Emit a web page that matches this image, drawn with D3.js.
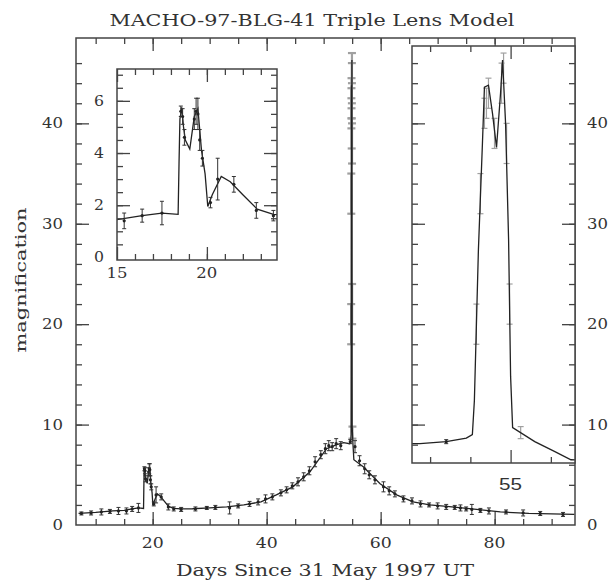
<!DOCTYPE html>
<html>
<head>
<meta charset="utf-8">
<script src="https://cdn.jsdelivr.net/npm/d3@7"></script>
<style>
  body { margin: 0; background: #fff; }
  svg text { font-family: "DejaVu Serif", "Liberation Serif", serif; fill: #333; }
  .tick line { stroke: #444; stroke-width: 1.3; }
</style>
</head>
<body>
<div id="chart"></div>
<script>
// model light curve (days since 31 May 1997, magnification)
const modelDay = [7.0, 10, 13, 15, 16.4, 17.5, 18.4, 18.45, 18.5, 18.6, 18.7, 18.8, 19.05, 19.3, 19.5, 19.7, 19.9, 20.05, 20.3, 20.8,
  21.3, 22.0, 22.8, 23.7, 25, 27, 30, 33, 36, 39, 41.7, 44.6, 47.6, 50.5, 52.3, 53.5, 54.55, 54.68, 54.78, 54.81,
  54.82, 54.84, 54.86, 54.87, 54.89, 54.91, 54.93, 54.95, 54.96, 54.975, 54.99, 55.0, 55.01, 55.12, 55.22, 55.30,
  56.95, 59.9, 62.8, 65.7, 68.6, 71.6, 76, 81, 86, 94];
const modelMag = [1.15, 1.25, 1.4, 1.45, 1.6, 1.7, 1.65, 3.6, 5.3, 5.75, 5.0, 4.5, 4.15, 5.4, 5.7, 4.1, 3.2, 1.95, 2.4, 3.1,
  2.9, 2.4, 1.85, 1.65, 1.6, 1.62, 1.7, 1.8, 2.0, 2.3, 3.0, 3.8, 5.3, 7.6, 8.0, 8.2, 8.1, 8.3, 8.65, 9.0,
  12.4, 27.4, 38, 43.6, 43.8, 41, 37.6, 43, 46.3, 40, 28.4, 14.8, 9.7, 8.3, 7.3, 6.5,
  5.8, 4.1, 3.0, 2.3, 2.0, 1.85, 1.6, 1.3, 1.15, 1.05];

// photometry points
const obsDay = [7.5, 9.2, 11.0, 12.5, 14.0, 15.4, 16.4, 17.5, 18.55, 18.65, 18.75, 19.3, 19.4, 19.5, 19.6, 19.75, 20.2, 20.6,
  21.5, 22.75, 23.7, 25.0, 27.5, 29.5, 31, 33.5, 35, 37, 38.5, 39.8, 41, 42.5, 43.5, 44.5, 45.5, 46.5, 47.5, 48.5,
  49.5, 50.3, 50.9, 51.5, 52.2, 53.0, 54.68, 55.5, 56.3, 57.2, 58, 59, 60.5, 61.5, 62.5, 64, 65.5, 67, 68.5, 70,
  71.5, 73, 74, 75, 76, 77.5, 79, 82, 85, 88, 92];
const obsMag = [1.15, 1.2, 1.3, 1.35, 1.4, 1.4, 1.6, 1.7, 5.6, 5.4, 4.6, 5.3, 5.6, 5.5, 4.5, 3.8, 2.1, 3.0,
  2.8, 1.8, 1.6, 1.55, 1.6, 1.7, 1.75, 1.7, 1.9, 2.1, 2.3, 2.6, 2.8, 3.2, 3.5, 3.9, 4.3, 4.8, 5.4, 6.3,
  7.0, 7.6, 7.9, 7.8, 8.1, 7.9, 8.3, 7.8, 6.4, 5.6, 5.0, 4.5, 3.8, 3.4, 3.1, 2.6, 2.4, 2.1, 2.0, 1.9,
  1.8, 1.75, 1.7, 1.6, 1.55, 1.45, 1.4, 1.3, 1.2, 1.15, 1.05];
const obsErr = [0.15, 0.2, 0.3, 0.2, 0.35, 0.3, 0.25, 0.45, 0.2, 0.3, 0.3, 0.4, 0.5, 0.6, 0.4, 0.3, 0.2, 0.8,
  0.3, 0.3, 0.2, 0.2, 0.2, 0.15, 0.2, 0.6, 0.2, 0.25, 0.3, 0.4, 0.3, 0.3, 0.3, 0.3, 0.4, 0.4, 0.4, 0.5,
  0.4, 0.5, 0.5, 0.4, 0.5, 0.4, 0.2, 0.6, 0.5, 0.5, 0.4, 0.4, 0.5, 0.4, 0.3, 0.3, 0.3, 0.3, 0.2, 0.3,
  0.25, 0.2, 0.3, 0.2, 0.5, 0.2, 0.3, 0.2, 0.3, 0.2, 0.2];

// caustic crossing points (plotted grey)
const peakDay = [54.83, 54.85, 54.87, 54.88, 54.89, 54.92, 54.955, 54.965, 54.98, 54.995, 55.05];
const peakMag = [20, 33, 41, 42, 43, 39, 44, 45.5, 38, 22, 9.2];
const peakErr = [2, 2, 1.5, 1.5, 1.5, 1.5, 2, 1.5, 2, 2, 0.6];

// tick labels
const mainXLabels = [20, 40, 60, 80];
const mainYLabels = [0, 10, 20, 30, 40];
const inset1XLabels = [15, 20];
const inset1YLabels = [0, 2, 4, 6];
const inset2XLabels = [55];

const model = modelDay.map((d, i) => ({day: d, mag: modelMag[i]}));
const obs = obsDay.map((d, i) => ({day: d, mag: obsMag[i], err: obsErr[i]}));
const peak = peakDay.map((d, i) => ({day: d, mag: peakMag[i], err: peakErr[i]}));

const W = 613, H = 582;
const svg = d3.select("#chart").append("svg")
    .attr("width", W)
    .attr("height", H);

// main panel scales
const x = d3.scaleLinear().domain([6.55, 94.1]).range([76, 575]);
const y = d3.scaleLinear().domain([0, 48.5]).range([525, 38]);

// wide, blurred plotter lettering: stretch glyphs to the measured width
function label(sel, perChar) {
    sel.attr("textLength", d => String(d).length * perChar)
        .attr("lengthAdjust", "spacingAndGlyphs");
}

function drawPanel(p) {
    let g = svg.append("g");
    let [x0, x1] = p.x.range();
    let [y1, y0] = p.y.range();

    g.append("clipPath").attr("id", p.id)
        .append("rect")
        .attr("x", x0).attr("y", y0)
        .attr("width", x1 - x0).attr("height", y1 - y0);

    if (p.background) {
        g.append("rect")
            .attr("x", x0).attr("y", y0)
            .attr("width", x1 - x0).attr("height", y1 - y0)
            .attr("fill", "#fff");
    }

    let plot = g.append("g").attr("clip-path", "url(#" + p.id + ")");

    // grey points around the caustic crossing
    let pk = plot.append("g").attr("stroke", "#a0a0a0").attr("stroke-width", p.peakWidth);
    peak.forEach(d => {
        pk.append("line")
            .attr("x1", p.x(d.day)).attr("x2", p.x(d.day))
            .attr("y1", p.y(d.mag - d.err)).attr("y2", p.y(d.mag + d.err));
        [d.mag - d.err, d.mag + d.err].forEach(v => {
            pk.append("line")
                .attr("x1", p.x(d.day) - p.cap).attr("x2", p.x(d.day) + p.cap)
                .attr("y1", p.y(v)).attr("y2", p.y(v));
        });
    });

    // model curve
    let line = d3.line()
        .x(d => p.x(d.day))
        .y(d => p.y(d.mag));
    plot.append("path")
        .datum(model)
        .attr("fill", "none")
        .attr("stroke", "#222")
        .attr("stroke-width", 1.3)
        .attr("d", line);

    // photometry with error bars
    let pts = plot.append("g").attr("stroke", "#333").attr("stroke-width", 1);
    obs.forEach(d => {
        pts.append("line")
            .attr("x1", p.x(d.day)).attr("x2", p.x(d.day))
            .attr("y1", p.y(d.mag - d.err)).attr("y2", p.y(d.mag + d.err));
        [d.mag - d.err, d.mag + d.err].forEach(v => {
            pts.append("line")
                .attr("x1", p.x(d.day) - 2).attr("x2", p.x(d.day) + 2)
                .attr("y1", p.y(v)).attr("y2", p.y(v));
        });
        pts.append("circle")
            .attr("cx", p.x(d.day)).attr("cy", p.y(d.mag))
            .attr("r", 1.6).attr("fill", "#222").attr("stroke", "none");
    });

    // inward ticks on all four sides
    let sides = [
        [d3.axisBottom, p.x, p.xMinor, p.xMajor, "translate(0," + y1 + ")"],
        [d3.axisTop, p.x, p.xMinor, p.xMajor, "translate(0," + y0 + ")"],
        [d3.axisLeft, p.y, p.yMinor, p.yMajor, "translate(" + x0 + ",0)"],
        [d3.axisRight, p.y, p.yMinor, p.yMajor, "translate(" + x1 + ",0)"]
    ];
    sides.forEach(([axis, sc, minor, major, tr]) => {
        [[minor, 6], [major, 13]].forEach(([vals, len]) => {
            let a = g.append("g")
                .attr("transform", tr)
                .call(axis(sc).tickValues(vals).tickSize(-len).tickFormat(""));
            a.select(".domain").remove();
        });
    });

    g.append("rect")
        .attr("x", x0).attr("y", y0)
        .attr("width", x1 - x0).attr("height", y1 - y0)
        .attr("fill", "none")
        .attr("stroke", "#444")
        .attr("stroke-width", 1.5);
    return g;
}

// main panel
let mainG = drawPanel({
    id: "clipMain", x: x, y: y, cap: 4, peakWidth: 2.2,
    xMinor: d3.range(10, 94, 5), xMajor: [20, 40, 60, 80],
    yMinor: d3.range(2, 48, 2), yMajor: [10, 20, 30, 40]
});

mainG.selectAll(".xl").data(mainXLabels).enter().append("text")
    .attr("x", d => x(d)).attr("y", 548)
    .attr("text-anchor", "middle").attr("font-size", 14)
    .text(d => d)
    .call(label, 11);
mainG.selectAll(".yl").data(mainYLabels).enter().append("text")
    .attr("x", 63).attr("y", d => y(d) + 5)
    .attr("text-anchor", "end").attr("font-size", 14)
    .text(d => d)
    .call(label, 10.5);
mainG.selectAll(".yr").data(mainYLabels).enter().append("text")
    .attr("x", 587).attr("y", d => y(d) + 5)
    .attr("text-anchor", "start").attr("font-size", 14)
    .text(d => d)
    .call(label, 10.5);

// inset 1: the first (planetary) bump
const x1s = d3.scaleLinear().domain([15, 23.9]).range([117, 277]);
const y1s = d3.scaleLinear().domain([-0.1, 7.22]).range([260, 69]);
let in1 = drawPanel({
    id: "clipIn1", x: x1s, y: y1s, cap: 2, peakWidth: 1.2, background: true,
    xMinor: d3.range(16, 24, 1), xMajor: [15, 20],
    yMinor: d3.range(0.5, 7.2, 0.5), yMajor: [2, 4, 6]
});
in1.selectAll(".xl").data(inset1XLabels).enter().append("text")
    .attr("x", d => x1s(d)).attr("y", 278)
    .attr("text-anchor", "middle").attr("font-size", 14)
    .text(d => d)
    .call(label, 10.5);
in1.selectAll(".yl").data(inset1YLabels).enter().append("text")
    .attr("x", 104).attr("y", d => y1s(d) + 5)
    .attr("text-anchor", "end").attr("font-size", 14)
    .text(d => d)
    .call(label, 10);

// inset 2: the caustic crossing, same magnification scale as the main panel
const x2s = d3.scaleLinear().domain([54.51, 55.32]).range([412, 575]);
const y2s = d3.scaleLinear().domain([y.invert(463), y.invert(46)]).range([463, 46]);
let in2 = drawPanel({
    id: "clipIn2", x: x2s, y: y2s, cap: 3, peakWidth: 1.2, background: true,
    xMinor: [54.6, 54.8, 55.2], xMajor: [55],
    yMinor: d3.range(8, 48, 2), yMajor: [10, 20, 30, 40]
});
in2.selectAll(".xl").data(inset2XLabels).enter().append("text")
    .attr("x", d => x2s(d)).attr("y", 490)
    .attr("text-anchor", "middle").attr("font-size", 17)
    .style("font-family", "'Liberation Sans', Arial, sans-serif")
    .text(d => d)
    .call(label, 11.5);

// titles
svg.append("text")
    .attr("x", 312).attr("y", 26)
    .attr("text-anchor", "middle").attr("font-size", 16)
    .attr("textLength", 405).attr("lengthAdjust", "spacingAndGlyphs")
    .text("MACHO-97-BLG-41 Triple Lens Model");
svg.append("text")
    .attr("x", 325).attr("y", 576)
    .attr("text-anchor", "middle").attr("font-size", 16)
    .attr("textLength", 298).attr("lengthAdjust", "spacingAndGlyphs")
    .text("Days Since 31 May 1997 UT");
svg.append("text")
    .attr("transform", "translate(26,280) rotate(-90)")
    .attr("text-anchor", "middle").attr("font-size", 15)
    .attr("textLength", 145).attr("lengthAdjust", "spacingAndGlyphs")
    .text("magnification");
</script>
</body>
</html>
